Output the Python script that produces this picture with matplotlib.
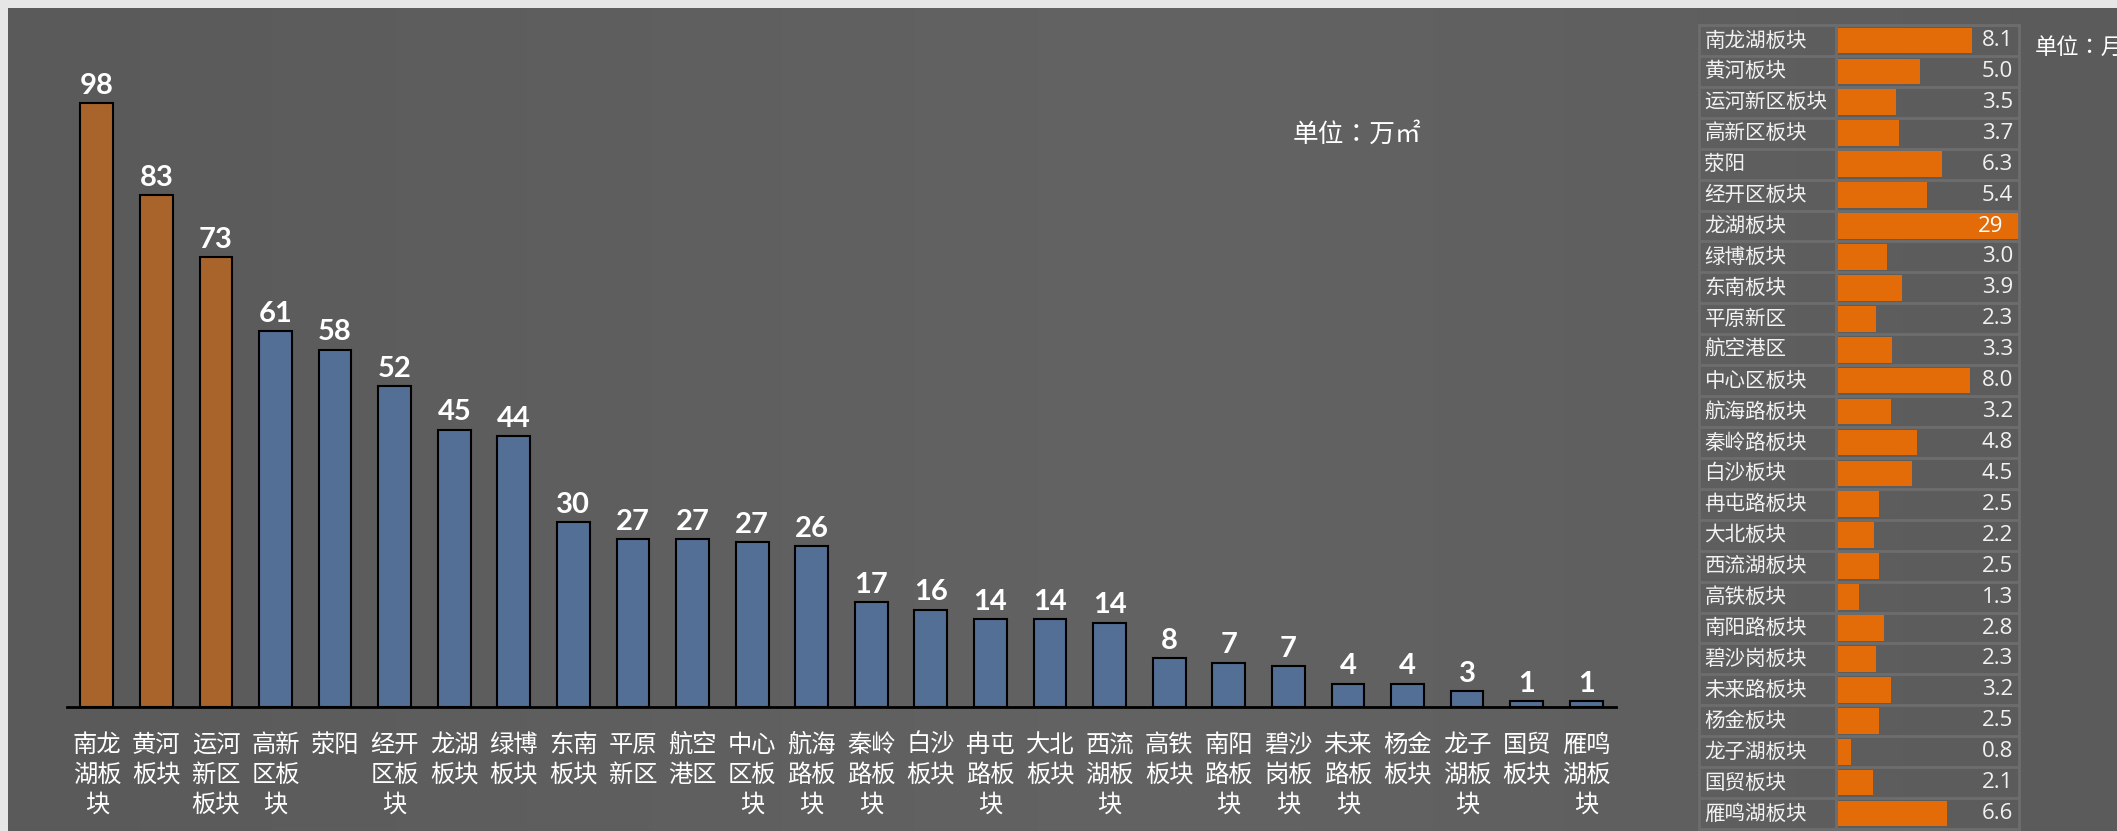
import numpy as np
import matplotlib
matplotlib.use("Agg")
import matplotlib.pyplot as plt
from matplotlib.colors import LinearSegmentedColormap
import textwrap

plt.rcParams['font.family'] = ['Noto Sans CJK SC', 'DejaVu Sans']

# 主图：各板块面积（万㎡）
categories = ['南龙湖板块', '黄河板块', '运河新区板块', '高新区板块', '荥阳', '经开区板块',
              '龙湖板块', '绿博板块', '东南板块', '平原新区', '航空港区', '中心区板块',
              '航海路板块', '秦岭路板块', '白沙板块', '冉屯路板块', '大北板块', '西流湖板块',
              '高铁板块', '南阳路板块', '碧沙岗板块', '未来路板块', '杨金板块', '龙子湖板块',
              '国贸板块', '雁鸣湖板块']
area = [98, 83, 73, 61, 58, 52, 45, 44, 30, 27.3, 27.3, 26.8, 26.1, 17, 15.8, 14.2,
        14.2, 13.7, 7.9, 7.2, 6.6, 3.8, 3.8, 2.6, 1, 1]
n_top = 3  # 前三名用橙色

# 右侧表格：去化周期（月）
months = [8.1, 5.0, 3.5, 3.7, 6.3, 5.4, 29, 3.0, 3.9, 2.3, 3.3, 8.0, 3.2, 4.8, 4.5,
          2.5, 2.2, 2.5, 1.3, 2.8, 2.3, 3.2, 2.5, 0.8, 2.1, 6.6]
bar_cap = 10.85  # 数据条上限

W, H = 2117, 831

fig = plt.figure(figsize=(W / 100, H / 100), dpi=100, facecolor='#e6e6e6')

# 深灰背景，中间略亮
bg = fig.add_axes([8 / W, 0, 1 - 8 / W, (H - 8) / H], zorder=-10)
bg_cmap = LinearSegmentedColormap.from_list(
    'bg', [(0, '#5a5a5a'), (0.55, '#636363'), (0.8, '#5f5f5f'), (1, '#5b5b5b')])
bg.imshow(np.linspace(0, 1, 256)[None, :], cmap=bg_cmap, aspect='auto',
          extent=(0, 1, 0, 1))
bg.set_axis_off()

# ---------- 柱状图 ----------
x0, x1, ybase, ytop = 67, 1616, 707, 29
ax = fig.add_axes([x0 / W, 1 - ybase / H, (x1 - x0) / W, (ybase - ytop) / H])
ax.set_facecolor('none')
colors = ['#a9642b'] * n_top + ['#536f95'] * (len(area) - n_top)
xs = np.arange(len(area))
bars = ax.bar(xs, area, width=0.55, color=colors, edgecolor='black', linewidth=1.5)
ax.bar_label(bars, fmt='%.0f', padding=3, color='white', fontsize=21, fontweight='bold',
             family=['Lato', 'DejaVu Sans'])
ax.set_xlim(-0.5, len(area) - 0.5)
ax.set_ylim(0, 110)
labels = ['\n'.join(textwrap.wrap(c, 2)) for c in categories]
ax.set_xticks(xs)
ax.set_xticklabels(labels, color='white', fontsize=17.5, linespacing=1.2)
ax.tick_params(axis='x', length=0, pad=18)
ax.set_yticks([])
for s in ['top', 'left', 'right']:
    ax.spines[s].set_visible(False)
ax.spines['bottom'].set_color('black')
ax.spines['bottom'].set_linewidth(2)

fig.text(1293 / W, 1 - 135 / H, '单位：万㎡', color='white', fontsize=18.5,
         ha='left', va='center', family=['Noto Sans CJK TC', 'DejaVu Sans'])

# ---------- 右侧表格 ----------
n = len(categories)
tx0, tx1, tx2, ty0, ty1 = 1699, 1836, 2019, 25, 829
grid_c = '#6d6d6d'

ax_lab = fig.add_axes([tx0 / W, 1 - ty1 / H, (tx1 - tx0) / W, (ty1 - ty0) / H])
ax_bar = fig.add_axes([tx1 / W, 1 - ty1 / H, (tx2 - tx1) / W, (ty1 - ty0) / H])

ax_bar.barh(np.arange(n), months, height=0.83, color='#e36c09', zorder=2)
ax_bar.set_xlim(-0.12, bar_cap + 0.12)

for a in (ax_lab, ax_bar):
    a.set_facecolor('none')
    a.set_ylim(n - 0.5, -0.5)
    a.set_xticks([])
    a.set_yticks([])
    for k in range(n + 1):
        a.axhline(k - 0.5, color=grid_c, lw=2, zorder=1)
    for s in a.spines.values():
        s.set_color(grid_c)
        s.set_linewidth(2)

for i, (name, v) in enumerate(zip(categories, months)):
    ax_lab.text(0.04, i, name, transform=ax_lab.get_yaxis_transform(), color='#f2f2f2',
                fontsize=14.8, ha='left', va='center')
    if v > bar_cap:
        txt, tx, tc = f'{v:.0f}', bar_cap - 0.85, 'white'
    else:
        txt, tx, tc = f'{v:.1f}', bar_cap - 0.25, '#f2f2f2'
    ax_bar.text(tx, i, txt, color=tc, fontsize=16, ha='right', va='center',
                family=['Open Sans', 'DejaVu Sans'], zorder=3)

fig.text(2035 / W, 1 - 47 / H, '单位：月', color='white', fontsize=16,
         ha='left', va='center', family=['Noto Sans CJK TC', 'DejaVu Sans'])

fig.savefig('out.png', dpi=100, facecolor=fig.get_facecolor())
